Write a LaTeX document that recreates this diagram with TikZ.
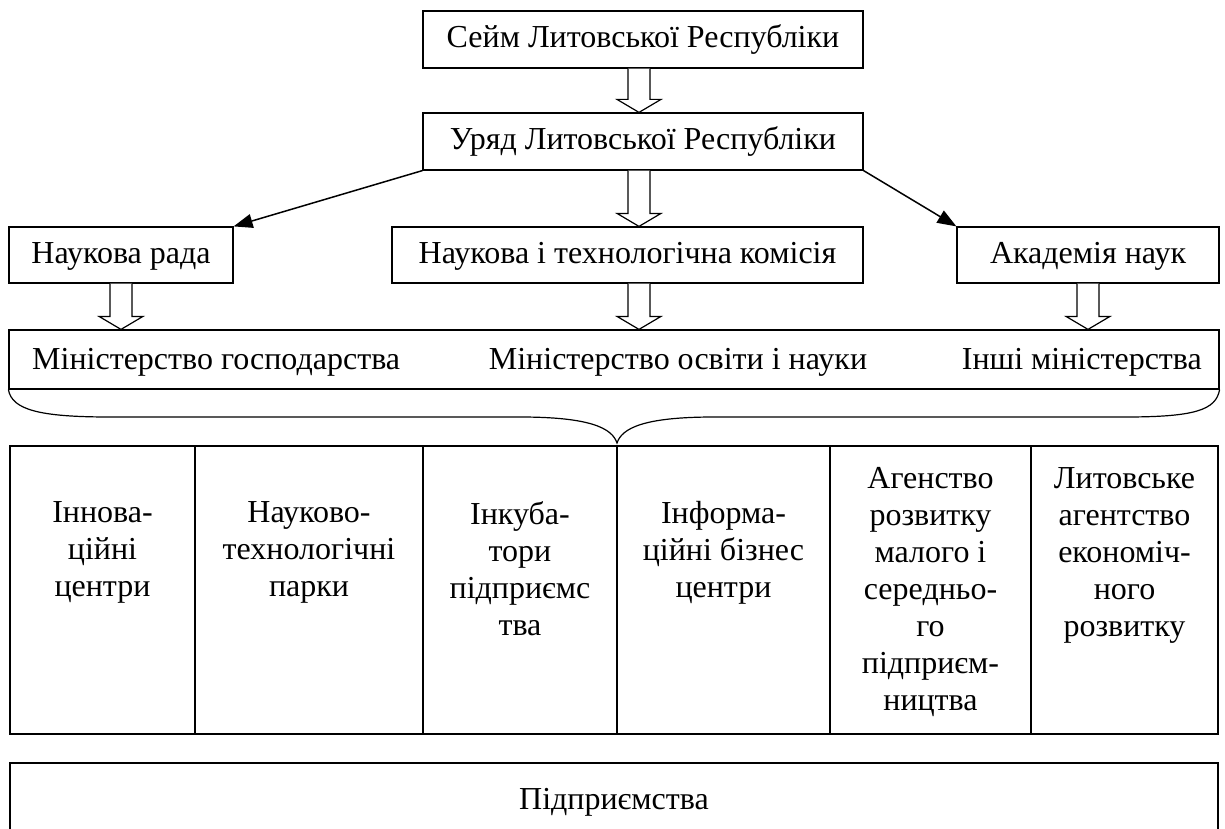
\documentclass[tikz,border=0pt]{standalone}
\usepackage{fontspec}
\setmainfont{Liberation Serif}
\usepackage{tikz}
\usetikzlibrary{calc,arrows.meta}

\tikzset{
  box/.style={draw, line width=1.2pt, rectangle, inner sep=0pt, text height=23pt, text depth=6pt, font=\fontsize{32}{37}\selectfont},
  txt/.style={inner sep=0pt, font=\fontsize{32}{37}\selectfont},
  cellbox/.style={draw, line width=1.2pt, rectangle, inner sep=0pt, minimum height=288pt},
  cell/.style={inner sep=0pt, anchor=north, align=center, font=\fontsize{32}{37}\selectfont},
  link/.style={line width=1.5pt, -{Triangle[length=19pt,width=14pt]}},
}
% порожниста стрілка вниз
\newcommand{\fatarrow}[2]{%
  \draw[line width=1.2pt, fill=white] ($(#1)+(-11,0)$) -- ($(#2)+(-11,-13)$) -- ($(#2)+(-22,-13)$)
    -- (#2) -- ($(#2)+(22,-13)$) -- ($(#2)+(11,-13)$) -- ($(#1)+(11,0)$);}

\begin{document}
\begin{tikzpicture}[x=1pt,y=-1pt]
\useasboundingbox (0,0) rectangle (1225,829);
\clip (0,0) rectangle (1225,829);
%Верхні блоки
\node[box, minimum width=440pt, minimum height=57pt] (seim) at (643,39.5) {Сейм Литовської Республіки};
\node[box, minimum width=440pt, minimum height=57pt] (uryad) at (643,141.5) {Уряд Литовської Республіки};
\node[box, minimum width=224pt, minimum height=56pt] (rada) at (121,255) {Наукова рада};
\node[box, minimum width=471pt, minimum height=56pt] (komisia) at (627.5,255) {Наукова і технологічна комісія};
\node[box, minimum width=262pt, minimum height=56pt] (akad) at (1088,255) {Академія наук};
%Міністерства
\node[draw, line width=1.2pt, minimum width=1210pt, minimum height=59pt, inner sep=0pt] (ministry) at (614,359.5) {};
\node[txt, anchor=west] (mgosp) at (32,362) {Міністерство господарства};
\node[txt] (mosv) at (678,362) {Міністерство освіти і науки};
\node[txt, anchor=east] (minshi) at (1202,362) {Інші міністерства};
%Стрілки
\coordinate (axis) at (639,0);
\fatarrow{seim.south -| axis}{uryad.north -| axis}
\fatarrow{uryad.south -| axis}{komisia.north -| axis}
\fatarrow{rada.south}{ministry.north -| rada.south}
\fatarrow{komisia.south -| axis}{ministry.north -| axis}
\fatarrow{akad.south}{ministry.north -| akad.south}
\draw[link] (uryad.south west) -- (rada.north east);
\draw[link] (uryad.south east) -- (akad.north west);
%Дужка
\coordinate (tip) at (617,443);
\draw[line width=1.2pt] (ministry.south west) .. controls (12,410) and (40,417) .. (110,417)
  -- (520,417) .. controls (590,417) and (612,428) .. (tip)
  .. controls (622,428) and (644,417) .. (714,417) -- (1125,417)
  .. controls (1195,417) and (1216,410) .. (ministry.south east);
%Таблиця
\node[cellbox, minimum width=185pt] (c1) at (102.5,590) {};
\node[cellbox, minimum width=228pt] (c2) at (309,590) {};
\node[cellbox, minimum width=194pt] (c3) at (520,590) {};
\node[cellbox, minimum width=213pt] (c4) at (723.5,590) {};
\node[cellbox, minimum width=201pt] (c5) at (930.5,590) {};
\node[cellbox, minimum width=187pt] (c6) at (1124.5,590) {};
\node[cell] (t1) at (102.5,501) {Іннова-\\ційні\\центри};
\node[cell] (t2) at (309,501) {Науково-\\технологічні\\парки};
\node[cell] (t3) at (520,501) {Інкуба-\\тори\\підприємс\\тва};
\node[cell] (t4) at (723.5,501) {Інформа-\\ційні бізнес\\центри};
\node[cell] (t5) at (930.5,467) {Агенство\\розвитку\\малого і\\середньо-\\го\\підприєм-\\ництва};
\node[cell] (t6) at (1124.5,467) {Литовське\\агентство\\економіч-\\ного\\розвитку};
%Підприємства
\node[box, minimum width=1208pt, minimum height=76pt] (firms) at (614,801) {Підприємства};
\end{tikzpicture}
\end{document}
